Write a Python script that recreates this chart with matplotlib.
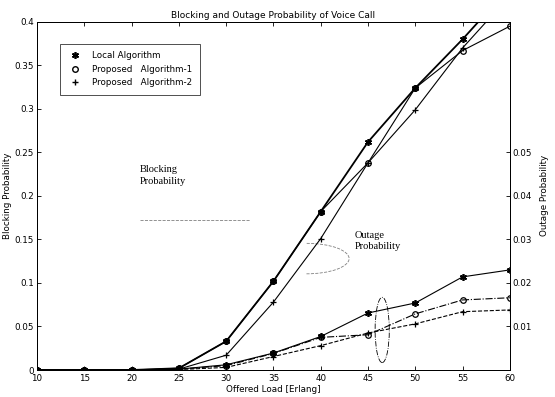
import matplotlib
matplotlib.use("Agg")
import matplotlib.pyplot as plt
from matplotlib.patches import Ellipse, Arc
from matplotlib.lines import Line2D

load = [10, 15, 20, 25, 30, 35, 40, 45, 50, 55, 60]

# Blocking probability (left axis)
block_local = [0, 0, 0, 0.002, 0.033, 0.102, 0.182, 0.262, 0.324, 0.380, 0.440]
block_alg1 = [0, 0, 0, 0.002, 0.033, 0.102, 0.182, 0.238, 0.324, 0.367, 0.395]
block_alg2 = [0, 0, 0, 0.001, 0.017, 0.078, 0.151, 0.238, 0.299, 0.370, 0.430]

# Outage probability (right axis)
out_local = [0, 0, 0, 0.0002, 0.0012, 0.0039, 0.0077, 0.0131, 0.0154, 0.0214, 0.0230]
out_alg1 = [0, 0, 0, 0.0002, 0.0010, 0.0038, 0.0075, 0.0081, 0.0129, 0.0161, 0.0166]
out_alg2 = [0, 0, 0, 0.0001, 0.0006, 0.0031, 0.0056, 0.0085, 0.0106, 0.0134, 0.0138]

labels = ["Local Algorithm", "Proposed   Algorithm-1", "Proposed   Algorithm-2"]
xticks = [10, 15, 20, 25, 30, 35, 40, 45, 50, 55, 60]
left_ticks = [0, 0.05, 0.1, 0.15, 0.2, 0.25, 0.3, 0.35, 0.4]
left_ticklabels = ["0", "0.05", "0.1", "0.15", "0.2", "0.25", "0.3", "0.35", "0.4"]
right_ticks = [0.01, 0.02, 0.03, 0.04, 0.05]
right_ticklabels = ["0.01", "0.02", "0.03", "0.04", "0.05"]

ast = (6, 2, 0)

fig = plt.figure(figsize=(5.55, 3.97), dpi=100)
ax = fig.add_axes([0.0667, 0.068, 0.852, 0.877])
ax2 = ax.twinx()

fs = 6.3
# blocking
ax.plot(load, block_local, color="black", lw=1.3, marker=ast, ms=5, mew=1.2)
ax.plot(load, block_alg1, color="black", lw=0.8, marker="o", ms=4, mfc="none", mew=0.9)
ax.plot(load, block_alg2, color="black", lw=0.8, marker="+", ms=5, mew=0.9)
# outage
ax2.plot(load, out_local, color="black", lw=0.8, marker=ast, ms=5, mew=1.2)
ax2.plot(load, out_alg1, color="black", lw=0.8, ls="-.", marker="o", ms=4, mfc="none", mew=0.9)
ax2.plot(load, out_alg2, color="black", lw=0.8, ls="--", marker="+", ms=5, mew=0.9)

ax.set_xlim(10, 60)
ax.set_ylim(0, 0.4)
ax2.set_ylim(0, 0.08)
ax.set_xticks(xticks)
ax.set_xticklabels([str(v) for v in xticks], fontsize=fs)
ax.set_yticks(left_ticks)
ax.set_yticklabels(left_ticklabels, fontsize=fs)
ax2.set_yticks(right_ticks)
ax2.set_yticklabels(right_ticklabels, fontsize=fs)
for a in (ax, ax2):
    a.tick_params(direction="in", length=3, width=0.6, pad=2)
    for s in a.spines.values():
        s.set_linewidth(0.7)
ax.tick_params(top=True)
ax.tick_params(axis="x", pad=3)

ax.set_title("Blocking and Outage Probability of Voice Call", fontsize=6.5, pad=3)
ax.set_xlabel("Offered Load [Erlang]", fontsize=6.3, labelpad=1)
ax.set_ylabel("Blocking Probability", fontsize=6.3, labelpad=2)
ax2.set_ylabel("Outage Probability", fontsize=6.3, labelpad=6)

# legend (markers only)
handles = [
    Line2D([], [], ls="none", marker=ast, color="black", ms=5, mew=1.2),
    Line2D([], [], ls="none", marker="o", color="black", mfc="none", ms=4),
    Line2D([], [], ls="none", marker="+", color="black", ms=5),
]
leg = ax.legend(handles, labels, loc="upper left", bbox_to_anchor=(0.04, 0.95),
                fontsize=6.3, frameon=True, fancybox=False, edgecolor="black",
                handlelength=1.5, borderpad=0.9, labelspacing=0.5, handletextpad=1.2)
leg.get_frame().set_linewidth(0.6)

# annotations
serif = ["Liberation Serif", "DejaVu Serif"]
ax.text(20.9, 0.235, "Blocking\nProbability", fontsize=7.5, family=serif,
        va="top", ha="left", linespacing=1.3)
ax.plot([20.9, 32.5], [0.172, 0.172], color="gray", lw=0.6, ls="--")
ax.add_patch(Arc((38.5, 0.128), 9, 0.035, theta1=-110, theta2=60,
                 color="gray", lw=0.6, ls="--"))
ax.text(43.6, 0.16, "Outage\nProbability", fontsize=7.5, family=serif,
        va="top", ha="left", linespacing=1.3)
ax.add_patch(Ellipse((46.5, 0.046), 1.5, 0.075, fill=False,
                     edgecolor="black", lw=0.6, ls="-."))

fig.savefig("out.png", dpi=100)
